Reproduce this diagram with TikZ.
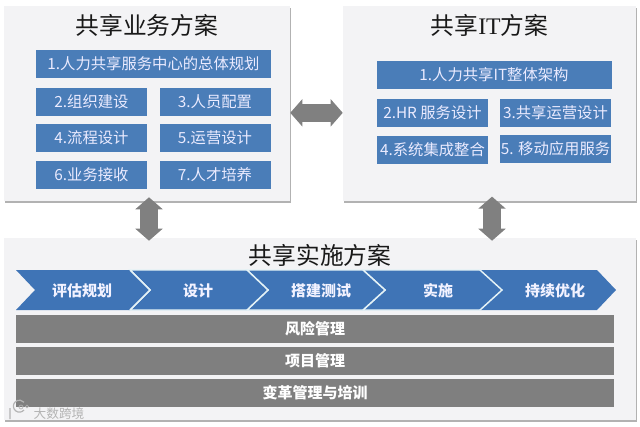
\documentclass[tikz,border=0pt]{standalone}
\usepackage{fontspec}
\setmainfont{Noto Sans CJK SC}
\newfontfamily\latinserif{Liberation Serif}
\usetikzlibrary{arrows.meta,shadows,calc}
\definecolor{panelc}{HTML}{F3F3F5}
\definecolor{bluec}{HTML}{4A7DB8}
\definecolor{chevc}{HTML}{3F74B6}
\definecolor{sepc}{HTML}{E4F2F6}
\definecolor{grayc}{HTML}{7F7F7F}
\definecolor{arrowc}{HTML}{808080}
\definecolor{markc}{HTML}{B4B4B4}
\tikzset{
  panel/.style={rectangle,fill=panelc,inner sep=0pt,draw=none,
    drop shadow={shadow xshift=0.4pt,shadow yshift=-1.2pt,fill=black,opacity=0.3}},
  title/.style={text=black!90,font=\fontsize{17.8pt}{20pt}\selectfont,inner sep=0pt},
  bluebox/.style={rectangle,fill=bluec,text=white!92!blue,inner sep=0pt,minimum height=21pt,
    font=\fontsize{11.5pt}{13pt}\selectfont},
  wide/.style={minimum width=176.25pt},
  narrow/.style={minimum width=83.25pt},
  chev/.style={fill=chevc,draw=sepc,line width=1.1pt,line join=miter},
  chevtext/.style={text=white!95!blue,font=\fontsize{11.25pt}{13pt}\selectfont\bfseries,inner sep=0pt},
  bar/.style={rectangle,fill=grayc,text=white,inner sep=0pt,minimum width=448.5pt,minimum height=21pt,
    font=\fontsize{11.25pt}{13pt}\selectfont\bfseries},
  bigarrow/.style={draw=arrowc,line width=13.5pt,
    {Triangle[length=9pt,width=20pt,fill=arrowc]}-{Triangle[length=9pt,width=20pt,fill=arrowc]}}
}
\begin{document}
\begin{tikzpicture}[x=0.75pt,y=-0.75pt]
\fill[white] (0,0) rectangle (640,426);
\useasboundingbox (0,0) rectangle (640,426);

% panels
\node[panel,minimum width=214.5pt,minimum height=146.25pt] (pl) at (147,103.5) {};
\node[panel,minimum width=219.75pt,minimum height=146.25pt] (pr) at (489.5,103.5) {};
\node[panel,minimum width=474pt,minimum height=136.5pt] (pb) at (320,329) {};

% titles
\node[title] (tl) at (147,25) {共享业务方案};
\node[title] (tr) at (489.5,25) {共享{\latinserif IT}方案};
\node[title] (tb) at (320,255) {共享实施方案};

% left boxes
\node[bluebox,wide] (l1) at (153.5,64) {1.人力共享服务中心的总体规划};
\node[bluebox,narrow] (l2) at (91.5,102) {2.组织建设};
\node[bluebox,narrow] (l3) at (215,102) {3.人员配置};
\node[bluebox,narrow] (l4) at (91.5,138) {4.流程设计};
\node[bluebox,narrow] (l5) at (215,138) {5.运营设计};
\node[bluebox,narrow] (l6) at (91.5,174.5) {6.业务接收};
\node[bluebox,narrow] (l7) at (215,174.5) {7.人才培养};

% right boxes
\node[bluebox,wide] (r1) at (494,75) {1.人力共享IT整体架构};
\node[bluebox,narrow] (r2) at (432.5,112.5) {2.HR 服务设计};
\node[bluebox,narrow] (r3) at (555.5,112.5) {3.共享运营设计};
\node[bluebox,narrow] (r4) at (432.5,150) {4.系统集成整合};
\node[bluebox,narrow] (r5) at (555.5,149) {5. 移动应用服务};

% chevrons
\fill[chevc] (480,270) -- (597,270) -- (616,290) -- (597,310) -- (480,310) -- (500,290) -- cycle;
\path[chev] (363,270) -- (480,270) -- (502,290) -- (480,310) -- (363,310) -- (385,290) -- cycle;
\path[chev] (247,270) -- (363,270) -- (385,290) -- (363,310) -- (247,310) -- (268,290) -- cycle;
\path[chev] (130,270) -- (247,270) -- (268,290) -- (247,310) -- (130,310) -- (150,290) -- cycle;
\fill[chevc] (16,270) -- (130,270) -- (150,290) -- (130,310) -- (16,310) -- (35,290) -- cycle;
\draw[sepc,line width=1.1pt] (130,270) -- (150,290) -- (130,310);
\node[chevtext] (c1) at (82,290.5) {评估规划};
\node[chevtext] (c2) at (198,290.5) {设计};
\node[chevtext] (c3) at (321,290.5) {搭建测试};
\node[chevtext] (c4) at (438,290.5) {实施};
\node[chevtext] (c5) at (555,290.5) {持续优化};

% bars
\node[bar] (b1) at (315,328.5) {风险管理};
\node[bar] (b2) at (315,360.5) {项目管理};
\node[bar] (b3) at (315,392.5) {变革管理与培训};

% connectors
\coordinate (h1) at ([yshift=-7pt]pl.east);
\coordinate (h2) at (h1 -| pr.west);
\draw[bigarrow] (h1) -- (h2);
\coordinate (v1) at ([xshift=1.5pt,yshift=3pt]pl.south);
\coordinate (v1b) at ([yshift=-2.25pt]v1 |- pb.north);
\draw[bigarrow] (v1) -- (v1b);
\coordinate (v2) at ([xshift=1.9pt,yshift=3.5pt]pr.south);
\coordinate (v2b) at ([yshift=-2.25pt]v2 |- pb.north);
\draw[bigarrow] (v2) -- (v2b);

% watermark
\node[text=markc,font=\fontsize{9.5pt}{11pt}\selectfont,inner sep=0pt] (wm) at (59,414) {大数跨境};
\draw[markc,line width=.9pt] (10,408) -- (10,419) (24,410) arc (40:320:6 and 6);
\draw[markc,line width=.5pt] (21,407) circle (2) (27,406.5) circle (1.5);
\end{tikzpicture}
\end{document}
